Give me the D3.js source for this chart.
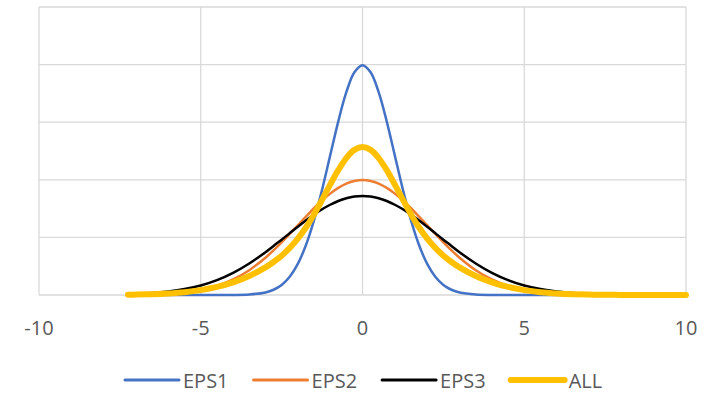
<!DOCTYPE html>
<html lang="en">
<head>
  <meta charset="UTF-8">
  <title>EPS distributions</title>
  <script src="https://d3js.org/d3.v7.min.js"></script>
  <style>
    body { margin: 0; background: #fff; }
    svg { display: block; }
    text { font-family: "Open Sans", sans-serif; fill: #595959; }
  </style>
</head>
<body>
  <div id="chart"></div>
  <script>
    // values (denser sampling round the peaks)
    const xs = [-7.25, -7, -6.5, -6, -5.5, -5, -4.5, -4, -3.5, -3,
                -2.75, -2.5, -2.25, -2, -1.75, -1.5, -1.25, -1, -0.75, -0.5, -0.25, 0,
                0.25, 0.5, 0.75, 1, 1.25, 1.5, 1.75, 2, 2.25, 2.5, 2.75,
                3, 3.5, 4, 4.5, 5, 5.5, 6, 6.5, 7, 7.5, 8, 8.5, 9, 9.5, 10];
    const eps1 = [0, 0, 0, 0, 0, 0, 0, 0.0001, 0.0009, 0.0044,
                  0.0091, 0.0175, 0.0317, 0.0540, 0.0863, 0.1295, 0.1826, 0.2420, 0.3011, 0.3521, 0.3867, 0.3989,
                  0.3867, 0.3521, 0.3011, 0.2420, 0.1826, 0.1295, 0.0863, 0.0540, 0.0317, 0.0175, 0.0091,
                  0.0044, 0.0009, 0.0001, 0, 0, 0, 0, 0, 0, 0, 0, 0, 0, 0, 0];
    const eps2 = [0.0003, 0.0004, 0.0010, 0.0022, 0.0045, 0.0088, 0.0159, 0.0270, 0.0431, 0.0648,
                  0.0775, 0.0913, 0.1059, 0.1210, 0.1360, 0.1506, 0.1641, 0.1760, 0.1859, 0.1933, 0.1979, 0.1995,
                  0.1979, 0.1933, 0.1859, 0.1760, 0.1641, 0.1506, 0.1360, 0.1210, 0.1059, 0.0913, 0.0775,
                  0.0648, 0.0431, 0.0270, 0.0159, 0.0088, 0.0045, 0.0022, 0.0010, 0.0004, 0.0002, 0.0001, 0, 0, 0, 0];
    const eps3 = [0.0013, 0.0018, 0.0034, 0.0061, 0.0103, 0.0165, 0.0258, 0.0385, 0.0548, 0.0742,
                  0.0852, 0.0960, 0.1074, 0.1186, 0.1294, 0.1395, 0.1488, 0.1567, 0.1632, 0.1680, 0.1710, 0.1720,
                  0.1710, 0.1680, 0.1632, 0.1567, 0.1488, 0.1395, 0.1294, 0.1186, 0.1074, 0.0960, 0.0852,
                  0.0742, 0.0548, 0.0385, 0.0258, 0.0165, 0.0103, 0.0061, 0.0034, 0.0018, 0.0009, 0.0004, 0.0002, 0.0001, 0, 0];
    const all = [0.0005, 0.0007, 0.0015, 0.0028, 0.0049, 0.0085, 0.0140, 0.0220, 0.0330, 0.0479,
                 0.0573, 0.0683, 0.0817, 0.0979, 0.1172, 0.1399, 0.1652, 0.1916, 0.2167, 0.2378, 0.2519, 0.2568,
                 0.2519, 0.2378, 0.2167, 0.1916, 0.1652, 0.1399, 0.1172, 0.0979, 0.0817, 0.0683, 0.0573,
                 0.0479, 0.0330, 0.0220, 0.0140, 0.0085, 0.0049, 0.0028, 0.0015, 0.0007, 0.0004, 0.0002, 0.0001, 0, 0, 0];

    const xTicks = [-10, -5, 0, 5, 10];
    const yTicks = [0, 0.1, 0.2, 0.3, 0.4, 0.5];

    const series = [
      { name: "EPS1", values: eps1, color: "#4472C4", width: 2.5 },
      { name: "EPS2", values: eps2, color: "#ED7D31", width: 2.5 },
      { name: "EPS3", values: eps3, color: "#000000", width: 2.5 },
      { name: "ALL",  values: all,  color: "#FFC000", width: 6 }
    ];

    const width = 721, height = 393;
    const plotLeft = 39, plotRight = 686, plotTop = 7, plotBottom = 295;

    const x = d3.scaleLinear().domain([-10, 10]).range([plotLeft, plotRight]);
    const y = d3.scaleLinear().domain([0, 0.5]).range([plotBottom, plotTop]);

    const svg = d3.select("#chart").append("svg")
      .attr("width", width).attr("height", height);

    // gridlines
    svg.append("g").selectAll("line")
      .data(yTicks).enter().append("line")
      .attr("x1", plotLeft).attr("x2", plotRight)
      .attr("y1", d => y(d)).attr("y2", d => y(d))
      .attr("stroke", "#d9d9d9").attr("stroke-width", 1.3);

    svg.append("g").selectAll("line")
      .data(xTicks).enter().append("line")
      .attr("x1", d => x(d)).attr("x2", d => x(d))
      .attr("y1", plotTop).attr("y2", plotBottom)
      .attr("stroke", "#d9d9d9").attr("stroke-width", 1.3);

    // x tick labels
    svg.append("g").selectAll("text")
      .data(xTicks).enter().append("text")
      .attr("x", d => x(d))
      .attr("y", 335)
      .attr("text-anchor", "middle")
      .attr("font-size", 20)
      .text(d => d);

    // curves
    const line = d3.line()
      .x((d, i) => x(xs[i]))
      .y(d => y(d))
      .curve(d3.curveCatmullRom.alpha(0.5));

    svg.append("g").selectAll("path")
      .data(series).enter().append("path")
      .attr("d", d => line(d.values))
      .attr("fill", "none")
      .attr("stroke", d => d.color)
      .attr("stroke-width", d => d.width)
      .attr("stroke-linejoin", "round")
      .attr("stroke-linecap", "round");

    // legend
    const legend = svg.append("g");
    let lx = 125;
    series.forEach(s => {
      legend.append("line")
        .attr("x1", lx).attr("x2", lx + 54)
        .attr("y1", 380).attr("y2", 380)
        .attr("stroke", s.color)
        .attr("stroke-width", s.width === 6 ? 6 : 3)
        .attr("stroke-linecap", "round");
      const t = legend.append("text")
        .attr("x", lx + 58).attr("y", 388)
        .attr("font-size", 20)
        .text(s.name);
      lx += 58 + t.node().getComputedTextLength() + 25;
    });
  </script>
</body>
</html>
